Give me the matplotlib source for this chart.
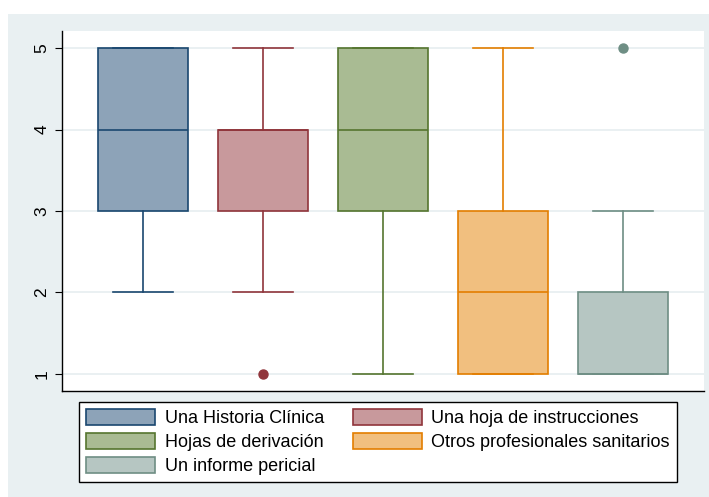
import matplotlib
matplotlib.use('Agg')
import matplotlib.pyplot as plt
from matplotlib.patches import Rectangle, Patch

plt.rcParams['font.family'] = ['Liberation Sans', 'DejaVu Sans']

# Resumen de cada variable: cuartiles, bigotes y atípicos
categorias = ['Una Historia Clínica', 'Una hoja de instrucciones', 'Hojas de derivación',
              'Otros profesionales sanitarios', 'Un informe pericial']
q1 = [3, 3, 3, 1, 1]
mediana = [4, 4, 4, 2, 1]
q3 = [5, 4, 5, 3, 2]
bigote_inf = [2, 2, 1, 1, 1]
bigote_sup = [5, 5, 5, 5, 3]
atipicos = [[], [1], [], [], [5]]

bordes = ['#1a476f', '#90353b', '#55752f', '#e37e00', '#6e8e84']
rellenos = ['#8da3b8', '#c8999c', '#a9bb93', '#f1bf7f', '#b6c6c2']

fig = plt.figure(figsize=(7.09, 4.97), dpi=100, facecolor='white')
# fondo exterior
fig.patches.append(Rectangle((8 / 709, 0), 1 - 8 / 709, 1 - 14 / 497, transform=fig.transFigure,
                             facecolor='#e9f0f2', edgecolor='none', zorder=-10))

ax = fig.add_axes([62 / 709, 1 - 391 / 497, (704 - 62) / 709, (391 - 31) / 497])
ax.set_facecolor('white')

for i in range(len(categorias)):
    stats = [dict(q1=q1[i], med=mediana[i], q3=q3[i], whislo=bigote_inf[i],
                  whishi=bigote_sup[i], fliers=atipicos[i])]
    ax.bxp(stats, positions=[i], widths=0.75, patch_artist=True, showfliers=True,
           boxprops=dict(facecolor=rellenos[i], edgecolor=bordes[i], linewidth=1.2),
           medianprops=dict(color=bordes[i], linewidth=1.2),
           whiskerprops=dict(color=bordes[i], linewidth=1.2),
           capprops=dict(color=bordes[i], linewidth=1.2),
           capwidths=0.5,
           flierprops=dict(marker='o', markerfacecolor=bordes[i], markeredgecolor=bordes[i],
                           markersize=6.5))

ax.set_xlim(-0.675, 4.675)
ax.set_ylim(0.79, 5.21)
ax.set_yticks([1, 2, 3, 4, 5])
ax.set_xticks([])
ax.tick_params(axis='y', labelsize=12.5, length=5, labelrotation=90, pad=4)
for lbl in ax.get_yticklabels():
    lbl.set_va('center')
ax.yaxis.grid(True, color='#e6eef0', linewidth=1.2)
ax.set_axisbelow(True)
for s in ['top', 'right']:
    ax.spines[s].set_visible(False)
ax.spines['left'].set_linewidth(1.0)
ax.spines['bottom'].set_linewidth(1.0)

handles = [Patch(facecolor=rellenos[i], edgecolor=bordes[i], linewidth=1.2, label=categorias[i])
           for i in range(len(categorias))]
# orden por filas en dos columnas
orden = [0, 2, 4, 1, 3]
leg = fig.legend([handles[k] for k in orden], [categorias[k] for k in orden],
                 loc='upper left', ncol=2, bbox_to_anchor=(79 / 709, 1 - 402 / 497),
                 fontsize=13, frameon=True, fancybox=False, framealpha=1,
                 handlelength=3.8, handleheight=1.0, labelspacing=0.3, borderpad=0.4,
                 handletextpad=0.55, columnspacing=1.6, borderaxespad=0)
leg.get_frame().set_edgecolor('black')
leg.get_frame().set_facecolor('white')
leg.get_frame().set_linewidth(1.0)

fig.savefig('out.png', dpi=100, facecolor=fig.get_facecolor())
